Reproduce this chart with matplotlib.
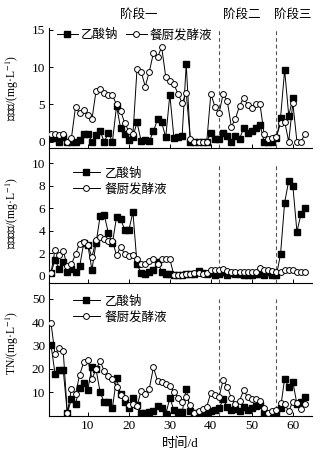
import numpy as np
import matplotlib
matplotlib.use("Agg")
import matplotlib.pyplot as plt

plt.rcParams['font.family'] = ['Liberation Serif', 'Noto Sans CJK SC', 'DejaVu Sans']
plt.rcParams['mathtext.fontset'] = 'stix'

series_names = ["乙酸钠", "餐厨发酵液"]
stage_labels = ["阶段一", "阶段二", "阶段三"]
stage_bounds = [42, 56]
ylabels = ["硝态氮/(mg·L$^{-1}$)", "亚硝态氮/(mg·L$^{-1}$)", "TN/(mg·L$^{-1}$)"]
xlabel = "时间/d"

days_full = list(range(1, 64))
days_no3_acetate = list(range(1, 61))

no3_acetate = [0.5, 0.5, 0.0, 0.6, 0.0, 0.0, 0.0, 0.2, 1.0, 1.1,
               0.0, 0.9, 1.4, 0.0, 1.2, 0.0, 4.8, 1.8, 1.0, 0.2,
               0.7, 2.6, 0.1, 0.2, 0.1, 1.4, 3.0, 2.6, 0.6, 6.3,
               0.5, 0.7, 0.8, 10.4, 0.0, 0.0, 0.0, 0.0, 0.0, 1.2,
               0.3, 0.4, 1.2, 0.75, 0.0, 0.75, 0.4, 1.8, 1.2, 1.5,
               1.8, 2.3, 0.0, 0.0, 0.0, 0.5, 3.2, 9.6, 3.5, 5.8]
no3_foodwaste = [1.1, 1.1, 0.9, 1.1, 0.0, 0.5, 4.7, 3.8, 4.2, 3.6,
                 3.0, 6.8, 7.0, 6.5, 6.3, 6.2, 5.0, 4.1, 2.5, 1.4,
                 1.0, 9.8, 9.4, 7.4, 9.4, 11.9, 11.3, 12.7, 8.7, 8.2,
                 7.7, 6.4, 5.2, 6.5, 0.3, 0.0, 0.0, 0.0, 0.0, 6.4,
                 4.7, 3.8, 6.4, 5.5, 2.0, 3.1, 4.8, 5.9, 4.9, 4.5,
                 5.0, 5.0, 1.0, 0.3, 0.5, 0.7, 2.5, 2.7, 0.0, 5.2,
                 0.0, 0.0, 1.1]

no2_acetate = [0.2, 1.4, 0.6, 1.2, 0.3, 0.6, 0.35, 0.8, 2.9, 2.7,
               0.5, 2.9, 5.3, 5.4, 3.8, 2.9, 5.2, 5.0, 4.1, 4.05,
               5.65, 1.0, 0.2, 0.15, 0.3, 0.45, 1.2, 0.35, 0.15, 0.1,
               0.0, 0.0, 0.05, 0.1, 0.15, 0.1, 0.4, 0.2, 0.15, 0.2,
               0.0, 0.1, 0.3, 0.0, 0.2, 0.1, 0.1, 0.0, 0.0, 0.0,
               0.1, 0.1, 0.0, 0.3, 0.0, 0.0, 1.9, 6.5, 8.45, 8.0,
               3.9, 5.5, 6.0]
no2_foodwaste = [0.2, 2.3, 1.85, 2.2, 0.8, 1.0, 1.9, 2.85, 2.95, 2.7,
                 1.65, 3.15, 3.45, 3.25, 3.1, 3.1, 1.8, 2.55, 1.9, 1.7,
                 1.85, 1.5, 1.05, 1.0, 1.25, 1.45, 1.05, 1.45, 1.45, 1.45,
                 0.0, 0.0, 0.0, 0.1, 0.15, 0.2, 0.2, 0.15, 0.25, 0.5,
                 0.5, 0.45, 0.6, 0.4, 0.3, 0.35, 0.3, 0.35, 0.3, 0.3,
                 0.35, 0.65, 0.5, 0.45, 0.4, 0.35, 0.3, 0.45, 0.5, 0.45,
                 0.35, 0.3, 0.3]

tn_acetate = [30.4, 17.9, 19.5, 19.5, 1.0, 7.2, 5.2, 11.8, 14.0, 11.2,
              20.8, 19.8, 10.0, 5.7, 5.7, 3.4, 16.0, 9.1, 5.8, 3.4,
              7.4, 4.5, 1.3, 1.0, 1.4, 2.0, 4.2, 3.2, 0.6, 7.5,
              2.4, 1.4, 1.4, 11.6, 2.0, 1.3, 1.2, 1.0, 1.4, 2.0,
              2.4, 3.1, 7.0, 3.8, 2.4, 2.7, 2.0, 3.8, 2.4, 3.1,
              4.1, 4.5, 1.0, 0.6, 1.3, 1.3, 3.1, 15.9, 12.1, 14.5,
              5.0, 6.0, 8.1]
tn_foodwaste = [39.8, 26.2, 29.0, 27.5, 1.0, 11.6, 9.3, 17.5, 22.8, 24.0,
                15.8, 19.8, 23.3, 19.1, 16.9, 15.5, 12.2, 8.8, 7.6, 4.5,
                5.1, 4.1, 10.7, 9.2, 11.6, 20.7, 14.8, 14.5, 13.6, 12.8,
                10.2, 7.7, 6.0, 8.1, 4.5, 1.3, 2.0, 2.7, 3.8, 9.8,
                8.8, 8.1, 15.2, 12.4, 7.4, 5.0, 6.4, 10.9, 7.8, 7.1,
                7.1, 6.4, 3.1, 1.3, 2.0, 2.4, 5.3, 4.8, 2.0, 6.0,
                5.5, 2.8, 4.8]

W, H = 335, 454
fig = plt.figure(figsize=(W / 100, H / 100), dpi=100)

def fx(px):
    return px / W

def fy(py):
    return 1 - py / H

left, right = 49.3, 311.7
panels = [(28.3, 147.7), (147.7, 283.3), (283.3, 415.7)]
axes = []
for top, bot in panels:
    ax = fig.add_axes([fx(left), fy(bot), fx(right - left), (bot - top) / H])
    axes.append(ax)

ylims = [(-0.8, 15.2), (-0.7, 11.4), (0, 56.6)]
yticks = [[0, 5, 10, 15], [0, 2, 4, 6, 8, 10], [10, 20, 30, 40, 50]]
dash_top = [15.2, 10, 50]
label_centers = [0.5, 0.52, 0.55]

data = [
    (days_no3_acetate, no3_acetate, days_full, no3_foodwaste),
    (days_full, no2_acetate, days_full, no2_foodwaste),
    (days_full, tn_acetate, days_full, tn_foodwaste),
]

for i, ax in enumerate(axes):
    dA, yA, dF, yF = data[i]
    ax.plot(dA, yA, '-', color='black', lw=0.7, marker='s', ms=3.8,
            mfc='black', mec='black', zorder=3, label=series_names[0])
    ax.plot(dF, yF, '-', color='black', lw=0.7, marker='o', ms=4.2,
            mfc='white', mec='black', mew=0.7, zorder=4, label=series_names[1])
    for b in stage_bounds:
        ax.plot([b, b], [ylims[i][0], dash_top[i]], color='#555555', lw=0.8,
                dashes=(3.5, 2.5), zorder=1)
    ax.set_xlim(0.6, 64.6)
    ax.set_ylim(*ylims[i])
    ax.set_yticks(yticks[i])
    ax.set_xticks([10, 20, 30, 40, 50, 60])
    for s in ['top', 'right']:
        ax.spines[s].set_visible(False)
    for s in ['left', 'bottom']:
        ax.spines[s].set_linewidth(0.8)
    ax.tick_params(direction='in', length=3, width=0.7, labelsize=9.5, pad=3)
    if i < 2:
        ax.tick_params(axis='x', labelbottom=False)
    ax.set_ylabel(ylabels[i], fontsize=8.4, labelpad=2)
    ax.yaxis.set_label_coords(-0.108, label_centers[i])
    ax.patch.set_alpha(0)

axes[2].set_xlabel(xlabel, fontsize=9.5, labelpad=4)

# legends
axes[0].legend(loc='upper left', bbox_to_anchor=(0.0, 1.06), ncol=2, frameon=False,
               fontsize=9, handlelength=1.7, handletextpad=0.2, columnspacing=0.6,
               borderaxespad=0.2)
for ax, yy in [(axes[1], 0.91), (axes[2], 0.965)]:
    ax.legend(loc='upper left', bbox_to_anchor=(0.06, yy), ncol=1, frameon=False,
              fontsize=9, handlelength=2.2, handletextpad=0.35, labelspacing=0.3,
              borderaxespad=0.2)

# stage labels
for lab, xp in zip(stage_labels, [139, 242, 293]):
    fig.text(fx(xp), fy(15), lab, ha='center', va='center', fontsize=9)

fig.savefig("out.png", dpi=100)
